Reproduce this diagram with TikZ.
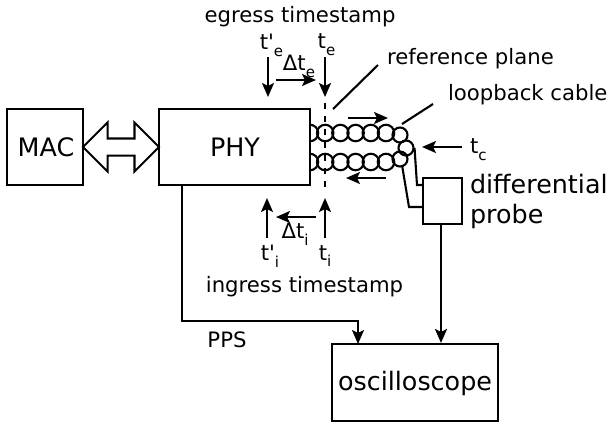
\documentclass[tikz,border=0pt]{standalone}
\usepackage{fontspec}
\setmainfont[Ligatures=TeXOff]{DejaVu Sans}
\usetikzlibrary{arrows.meta, shapes.arrows}
\newcommand{\lowsub}[1]{\raisebox{-.32em}{\fontsize{15}{15}\selectfont #1}}
\tikzset{
	box/.style={draw,fill=white,inner sep=0pt},
	big/.style={font=\fontsize{25.4}{26}\selectfont,inner sep=0pt},
	small/.style={font=\fontsize{21.2}{22}\selectfont,inner sep=0pt},
	twist/.style={draw,circle,inner sep=0pt,minimum size=16.5}
}

\begin{document}
\begin{tikzpicture}[>={Stealth[length=14pt,width=12pt,inset=3pt]},x=1pt,y=-1pt,line width=2.1pt]
	\useasboundingbox (0,0) rectangle (610,424);
	% twisted pair, PHY box covers the first turn
	\foreach \i in {0,...,5} {
		\node[twist](top\i) at (310+15.2*\i,133){};
		\node[twist](bot\i) at (310+15.2*\i,162){};
	}
	\node[twist,minimum size=15](loopa) at (400,135){};
	\node[twist,minimum size=15](loopb) at (406,148){};
	\node[twist,minimum size=15](loopc) at (400,159){};
	% boxes
	\node[box,minimum width=76,minimum height=76](mac) at (45,147){};
	\node[box,minimum width=151,minimum height=76](phy) at (234.5,147){};
	\node[box,minimum width=39,minimum height=46](probe) at (442.5,201){};
	\node[box,minimum width=166,minimum height=77](scope) at (415,382.5){};
	\node[draw,double arrow,inner xsep=0pt,inner ysep=7.5pt,minimum height=76,
		double arrow head extend=16,double arrow tip angle=90](link) at (121,147){};
	% labels
	\node[big](maclabel) at (46,147){MAC};
	\node[big](phylabel) at (235,147){PHY};
	\node[big](scopelabel) at (415,383){oscilloscope};
	\node[big,anchor=west](difflabel) at (469,184){differential};
	\node[big,anchor=west](probelabel) at (469,216){probe};
	\node[small](egress) at (300,17){egress timestamp};
	\node[small](ingress) at (304.5,287){ingress timestamp};
	\node[small,anchor=west](plane) at (386,59){reference plane};
	\node[small,anchor=west](cable) at (447,95){loopback cable};
	\node[small](pps) at (227,340){PPS};
	\node[small](tepl) at (271.5,45){t'\lowsub{e}};
	\node[small](te) at (326.5,45){t\lowsub{e}};
	\node[small](dte) at (299,66){Δt\lowsub{e}};
	\node[small](tipl) at (270,256){t'\lowsub{i}};
	\node[small](ti) at (325,256){t\lowsub{i}};
	\node[small](dti) at (295,234){Δt\lowsub{i}};
	\node[small,anchor=west](tc) at (469,150){t\lowsub{c}};
	% free ends
	\coordinate (tea) at (268,57);
	\coordinate (teb) at (268,97);
	\coordinate (tfa) at (325,57);
	\coordinate (tfb) at (325,97);
	\coordinate (dea) at (276,80);
	\coordinate (deb) at (316,80);
	\coordinate (tia) at (267,238);
	\coordinate (tib) at (267,198);
	\coordinate (tja) at (325,238);
	\coordinate (tjb) at (325,198);
	\coordinate (dia) at (316,217);
	\coordinate (dib) at (276,217);
	\coordinate (upa) at (348,118);
	\coordinate (upb) at (388,118);
	\coordinate (lowa) at (386,178);
	\coordinate (lowb) at (346,178);
	\coordinate (tca) at (462,147);
	\coordinate (tcb) at (422,147);
	\coordinate (planea) at (325,103);
	\coordinate (planeb) at (325,193);
	\coordinate (planec) at (378,65);
	\coordinate (planed) at (333,109);
	\coordinate (cablea) at (433,104);
	\coordinate (cableb) at (402,124);
	\coordinate (ppsa) at (182,185);
	\coordinate (proa) at (441,224);
	\path[->](tea)	edge	(teb)
		(tfa)	edge	(tfb)
		(dea)	edge	(deb)
		(tia)	edge	(tib)
		(tja)	edge	(tjb)
		(dia)	edge	(dib)
		(upa)	edge	(upb)
		(lowa)	edge	(lowb)
		(tca)	edge	(tcb);
	\draw[dashed,dash pattern=on 6pt off 7pt] (planea) -- (planeb);
	\draw (planec) -- (planed);
	\draw (cablea) -- (cableb);
	% wires to probe and scope
	\draw (loopb.east) -- (417,185) -- (probe.west |- 0,185);
	\draw (402,165) -- (409,207) -- (probe.west |- 0,207);
	\draw[->] (ppsa) -- (182,321) -- (358,321) -- (358,344);
	\draw[->] (proa) -- (proa |- scope.north);
\end{tikzpicture}
\end{document}
